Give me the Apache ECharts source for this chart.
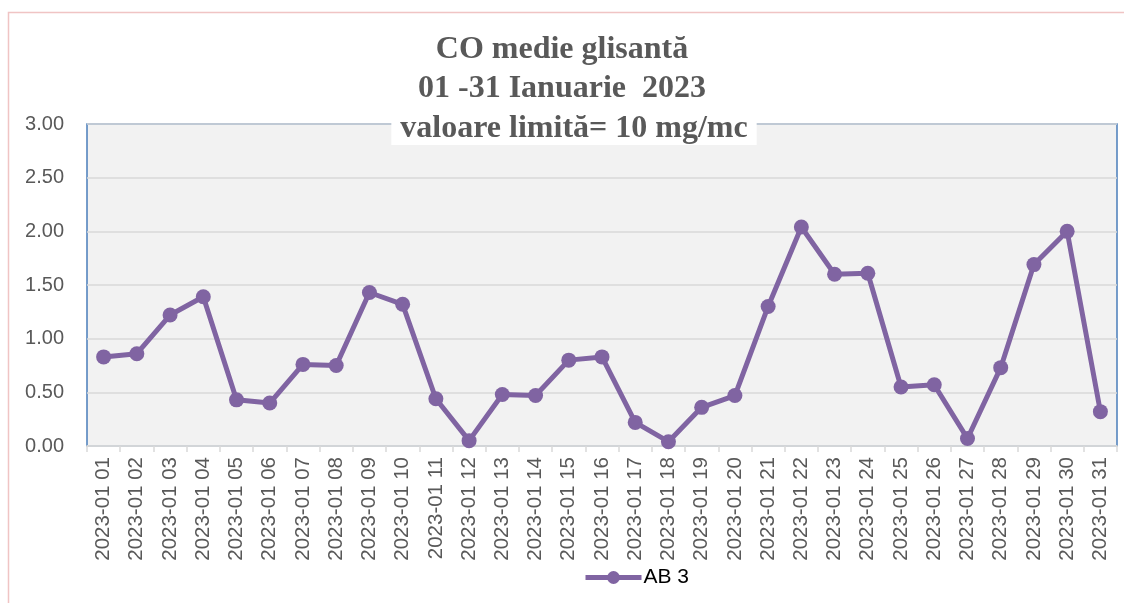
<!DOCTYPE html>
<html>
<head>
<meta charset="utf-8">
<script src="https://cdn.jsdelivr.net/npm/echarts@6/dist/echarts.min.js"></script>
<style>html,body{margin:0;padding:0;background:#fff;}#c{width:1124px;height:603px;}</style>
</head>
<body>
<div id="c"></div>
<script>
const categories = ["2023-01 01","2023-01 02","2023-01 03","2023-01 04","2023-01 05","2023-01 06","2023-01 07","2023-01 08","2023-01 09","2023-01 10","2023-01 11","2023-01 12","2023-01 13","2023-01 14","2023-01 15","2023-01 16","2023-01 17","2023-01 18","2023-01 19","2023-01 20","2023-01 21","2023-01 22","2023-01 23","2023-01 24","2023-01 25","2023-01 26","2023-01 27","2023-01 28","2023-01 29","2023-01 30","2023-01 31"];
const ab3 = [0.83,0.86,1.22,1.39,0.43,0.40,0.76,0.75,1.43,1.32,0.44,0.05,0.48,0.47,0.80,0.83,0.22,0.04,0.36,0.47,1.30,2.04,1.60,1.61,0.55,0.57,0.07,0.73,1.69,2.00,0.32];
const seriesName = "AB 3";
const titleLines = ["CO medie glisantă", "01 -31 Ianuarie  2023", "valoare limită= 10 mg/mc"];

const chart = echarts.init(document.getElementById('c'));
const tStyle = {fontFamily:'"Liberation Serif", "Times New Roman", serif', fontWeight:'bold', fontSize:32, color:'#595959', lineHeight:32};
const sans = '"Liberation Sans", Arial, sans-serif';
chart.setOption({
  backgroundColor:'#ffffff',
  animation:false,
  graphic:[{
    type:'polyline', silent:true, z:0,
    shape:{points:[[8.5,620],[8.5,12.5],[1130,12.5]]},
    style:{stroke:'#f0c4c4', lineWidth:1.5, fill:null}
  }],
  title:[
    {text:titleLines[0], left:'center', top:34, padding:0, textStyle:tStyle, z:10},
    {text:titleLines[1], left:'center', top:73, padding:0, textStyle:tStyle, z:10},
    {text:titleLines[2], left:565, textAlign:'center', top:113, padding:[0,9,0,9], backgroundColor:'#ffffff', textStyle:tStyle, z:10}
  ],
  grid:{left:87, right:7, top:124, bottom:157, show:true, backgroundColor:'#f2f2f2', borderColor:'#4a7ebb', borderWidth:1.5},
  legend:{
    data:[seriesName], top:562, left:578, itemWidth:56, itemHeight:16, itemGap:4,
    lineStyle:{width:5},
    textStyle:{color:'#000', fontSize:21, fontFamily:sans, padding:[0,0,0,-3]}
  },
  xAxis:{
    type:'category', data:categories, boundaryGap:true,
    axisLine:{lineStyle:{color:'#d9d9d9', width:1.5}},
    axisTick:{show:true, length:6, lineStyle:{color:'#d9d9d9', width:1.5}},
    axisLabel:{rotate:90, interval:0, color:'#595959', fontSize:20.5, margin:11, fontFamily:sans}
  },
  yAxis:{
    type:'value', min:0, max:3, interval:0.5,
    axisLine:{show:false}, axisTick:{show:false},
    splitLine:{lineStyle:{color:'#d9d9d9', width:1.5}},
    axisLabel:{color:'#595959', fontSize:20, margin:23, formatter:v=>v.toFixed(2), fontFamily:sans}
  },
  series:[{
    name:seriesName, type:'line', data:ab3,
    symbol:'circle', symbolSize:15,
    lineStyle:{color:'#8064a2', width:5},
    itemStyle:{color:'#8064a2'}
  }]
});
</script>
</body>
</html>
